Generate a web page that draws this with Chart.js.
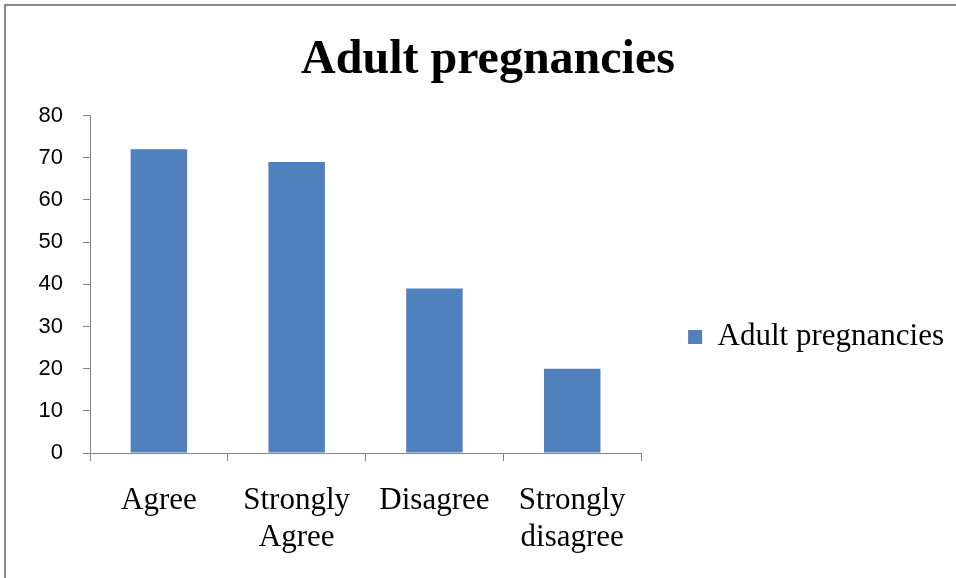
<!DOCTYPE html>
<html>
<head>
<meta charset="utf-8">
<script src="https://cdn.jsdelivr.net/npm/chart.js@4.4.1/dist/chart.umd.min.js"></script>
<style>
  html, body { margin: 0; padding: 0; background: #fff; overflow: hidden; }
  #box {
    position: absolute; left: 4px; top: 4px;
    width: 966px; height: 670px;
    border-left: 2px solid #888; border-top: 2px solid #888;
  }
</style>
</head>
<body>
<div id="box"><canvas id="myChart"></canvas></div>
<script>
  let categories = [["Agree"], ["Strongly", "Agree"], ["Disagree"], ["Strongly", "disagree"]];
  let values = [72, 69, 39, 20];
  let seriesName = "Adult pregnancies";
  let yTicks = [0, 10, 20, 30, 40, 50, 60, 70, 80];

  let axisColor = "#868686";
  let barColor = "#4F81BD";
  let serif = "'Liberation Serif', 'Times New Roman', serif";

  let canvas = document.getElementById("myChart");
  canvas.width = 966;
  canvas.height = 662;
  canvas.style.width = "966px";
  canvas.style.height = "662px";

  let ctx = canvas.getContext("2d");
  let chart = new Chart(ctx, {
    type: "bar",
    data: {
      labels: categories,
      datasets: [
        {
          label: seriesName,
          data: values,
          backgroundColor: barColor,
          borderWidth: 0,
          categoryPercentage: 1,
          barPercentage: 0.41,
        },
      ],
    },
    options: {
      responsive: false,
      animation: false,
      layout: { padding: { left: 16, right: 18, top: 0, bottom: 0 } },
      plugins: {
        title: {
          display: true,
          text: seriesName,
          color: "#000",
          font: { family: serif, size: 48, weight: "bold" },
          padding: { top: 26, bottom: 26 },
        },
        legend: {
          position: "right",
          maxWidth: 500,
          labels: {
            boxWidth: 14,
            boxHeight: 14,
            padding: 47,
            color: "#000",
            font: { family: serif, size: 31 },
          },
        },
        tooltip: { enabled: false },
      },
      scales: {
        x: {
          grid: { display: true, drawOnChartArea: false, color: axisColor, tickLength: 8, offset: true },
          border: { display: true, color: axisColor, width: 1 },
          ticks: {
            color: "#000",
            padding: 21,
            maxRotation: 0,
            autoSkip: false,
            font: { family: serif, size: 31, lineHeight: 1.2 },
          },
          afterFit: function (scale) { scale.height = 215; },
        },
        y: {
          min: 0,
          max: 80,
          afterBuildTicks: function (scale) {
            scale.ticks = yTicks.map(function (v) { return { value: v }; });
          },
          grid: { display: true, drawOnChartArea: false, color: axisColor, tickLength: 7 },
          border: { display: true, color: axisColor, width: 1 },
          ticks: {
            color: "#000",
            padding: 20,
            font: { family: "'Liberation Sans', Arial, sans-serif", size: 22 },
          },
          afterFit: function (scale) { scale.width = 68; },
        },
      },
    },
  });
</script>
</body>
</html>
